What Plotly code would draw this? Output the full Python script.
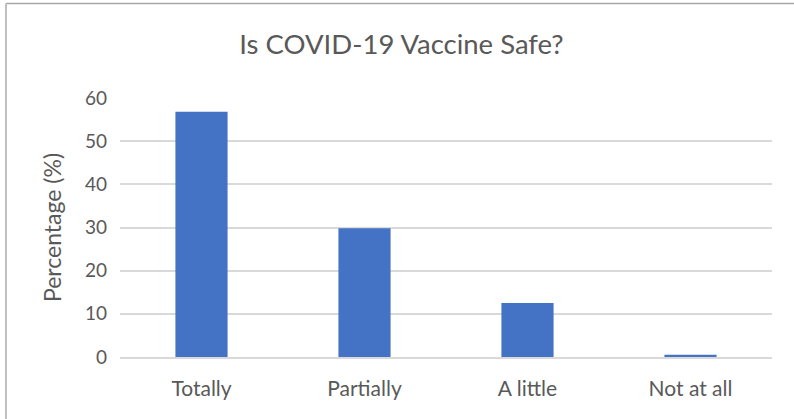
import plotly.graph_objects as go

categories = ["Totally", "Partially", "A little", "Not at all"]
percentages = [56.8, 29.8, 12.5, 0.5]
y_ticks = [0, 10, 20, 30, 40, 50, 60]

FONT = "Lato"
TEXT_GRAY = "#595959"

fig = go.Figure(
    go.Bar(
        x=categories,
        y=percentages,
        marker=dict(color="#4472C4", line=dict(width=0)),
        width=0.32,
    )
)

fig.update_layout(
    width=794,
    height=419,
    margin=dict(l=120, r=22, t=98, b=62),
    paper_bgcolor="white",
    plot_bgcolor="white",
    showlegend=False,
    title=dict(
        text="Is COVID-19 Vaccine Safe?",
        x=(401.5 - 120) / (794 - 120 - 22),
        xref="paper",
        xanchor="center",
        y=1 - 44 / 419,
        yanchor="middle",
        font=dict(family=FONT, size=27.5, color=TEXT_GRAY),
    ),
    font=dict(family=FONT, color=TEXT_GRAY),
    xaxis=dict(
        showgrid=False,
        showline=True,
        linecolor="#d9d9d9",
        linewidth=1.5,
        ticks="",
        tickfont=dict(size=21, color=TEXT_GRAY),
        ticklabelstandoff=12,
    ),
    yaxis=dict(
        range=[0, 60],
        tickvals=y_ticks,
        showgrid=True,
        gridcolor="#d9d9d9",
        gridwidth=1.5,
        zeroline=False,
        showline=False,
        ticks="",
        tickfont=dict(size=19, color=TEXT_GRAY),
        ticklabelstandoff=12,
        title=dict(text="Percentage (%)", font=dict(size=23, color=TEXT_GRAY), standoff=16),
    ),
)

# chart frame (top and left edges visible)
plot_w = 794 - 120 - 22
plot_h = 419 - 98 - 62
fx = (6 - 120) / plot_w
fy = 1 + (98 - 3.5) / plot_h
fig.add_shape(type="line", xref="paper", yref="paper", x0=fx, y0=fy, x1=1.2, y1=fy,
              line=dict(color="#a6a6a6", width=1.5))
fig.add_shape(type="line", xref="paper", yref="paper", x0=fx, y0=fy, x1=fx, y1=-0.4,
              line=dict(color="#bfbfbf", width=2))

fig.write_html("out.html")
